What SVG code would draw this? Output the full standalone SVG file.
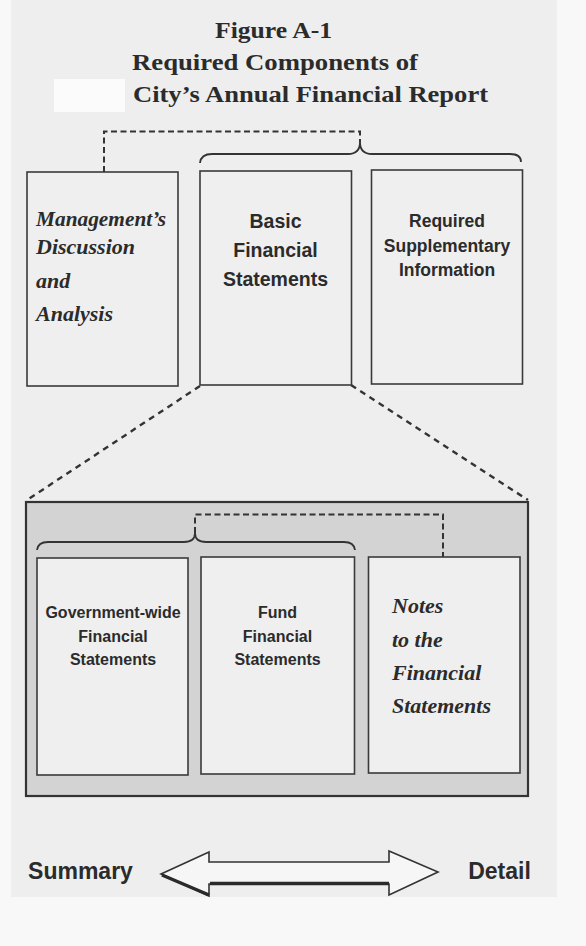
<svg xmlns="http://www.w3.org/2000/svg" width="586" height="946" viewBox="0 0 586 946">
  <defs>
    <style>
      .title { font-family: "Liberation Serif", "Times New Roman", serif; font-weight: bold; font-size: 24px; fill: #2b2b2b; }
      .sans { font-family: "Liberation Sans", Arial, sans-serif; font-weight: bold; fill: #2b2b2b; text-anchor: middle; }
      .script { font-family: "Liberation Serif", "Times New Roman", serif; font-weight: bold; font-style: italic; fill: #2b2b2b; font-size: 22px; }
      .box { fill: #efefef; stroke: #3a3a3a; stroke-width: 1.6; }
      .outer { fill: #d3d3d3; stroke: #333; stroke-width: 2.2; }
      .dash { fill: none; stroke: #333; stroke-width: 2; stroke-dasharray: 6 3.5; }
      .diag { fill: none; stroke: #333; stroke-width: 2.4; stroke-dasharray: 6 5; }
      .brace { fill: none; stroke: #333; stroke-width: 1.8; }
    </style>
  </defs>

  <!-- scanned page background -->
  <rect x="0" y="0" width="586" height="946" fill="#f8f8f8"/>
  <rect x="11" y="0" width="546" height="897" fill="#eeeeee"/>
  <rect x="54" y="79" width="71" height="33" fill="#fbfbfb"/>

  <!-- title -->
  <g id="title">
    <text class="title" x="215" y="38" textLength="117" lengthAdjust="spacingAndGlyphs">Figure A-1</text>
    <text class="title" x="132" y="70" textLength="286" lengthAdjust="spacingAndGlyphs">Required Components of</text>
    <text class="title" x="133" y="102" textLength="355" lengthAdjust="spacingAndGlyphs">City’s Annual Financial Report</text>
  </g>

  <!-- lower grouping panel -->
  <g id="basic-statements-panel">
    <rect class="outer" x="26" y="502" width="502" height="294"/>
  </g>

  <!-- connectors -->
  <g id="connectors">
    <path class="dash" d="M104,172 V131.5 H360 V142"/>
    <path class="brace" d="M200,163 Q201,154 212,154 L348,154 Q360,154 360,142 Q360,154 372,154 L510,154 Q521,154 521,162"/>
    <path class="diag" d="M200,386 L27,500"/>
    <path class="diag" d="M351,385 L528,500"/>
    <path class="dash" d="M195,533 V514.5 H443 V557"/>
    <path class="brace" d="M37,550 Q38,542 48,542 L184,542 Q195,542 195,533 Q195,542 206,542 L344,542 Q354,542 355,550"/>
  </g>

  <!-- top row -->
  <g id="mdna">
    <rect class="box" x="27" y="172" width="151" height="214"/>
    <text class="script" x="36" y="226" textLength="130" lengthAdjust="spacingAndGlyphs">Management’s</text>
    <text class="script" x="36" y="254">Discussion</text>
    <text class="script" x="36" y="288">and</text>
    <text class="script" x="36" y="321">Analysis</text>
  </g>

  <g id="basic-financial-statements">
    <rect class="box" x="200" y="171" width="151.5" height="214"/>
    <text class="sans" x="275.5" y="228" font-size="19.5">Basic</text>
    <text class="sans" x="275.5" y="257" font-size="19.5">Financial</text>
    <text class="sans" x="275.5" y="286" font-size="19.5">Statements</text>
  </g>

  <g id="rsi">
    <rect class="box" x="371.5" y="170" width="151" height="214"/>
    <text class="sans" x="447" y="227" font-size="17.5">Required</text>
    <text class="sans" x="447" y="252" font-size="17.5">Supplementary</text>
    <text class="sans" x="447" y="276" font-size="17.5">Information</text>
  </g>

  <!-- lower row -->
  <g id="government-wide">
    <rect class="box" x="37" y="558" width="151" height="217"/>
    <text class="sans" x="113" y="618" font-size="16">Government-wide</text>
    <text class="sans" x="113" y="642" font-size="16">Financial</text>
    <text class="sans" x="113" y="665" font-size="16">Statements</text>
  </g>

  <g id="fund">
    <rect class="box" x="201" y="557" width="153.5" height="217"/>
    <text class="sans" x="277.5" y="618" font-size="16">Fund</text>
    <text class="sans" x="277.5" y="642" font-size="16">Financial</text>
    <text class="sans" x="277.5" y="665" font-size="16">Statements</text>
  </g>

  <g id="notes">
    <rect class="box" x="368.5" y="557" width="151.5" height="216"/>
    <text class="script" x="392" y="613">Notes</text>
    <text class="script" x="392" y="647">to the</text>
    <text class="script" x="392" y="680">Financial</text>
    <text class="script" x="392" y="713">Statements</text>
  </g>

  <!-- summary / detail arrow -->
  <g id="summary-detail">
    <text class="sans" x="80.5" y="879" font-size="23">Summary</text>
    <text class="sans" x="499.5" y="879" font-size="23">Detail</text>
    <polygon points="161,874 209,852 209,862 389,862 389,851 438,872 389,895 389,884 209,884 209,896" fill="#f6f6f6" stroke="#333" stroke-width="1.6" stroke-linejoin="miter"/>
    <path d="M162,875 L209,895 M210,883.5 H389" fill="none" stroke="#2a2a2a" stroke-width="3.5"/>
  </g>
</svg>
